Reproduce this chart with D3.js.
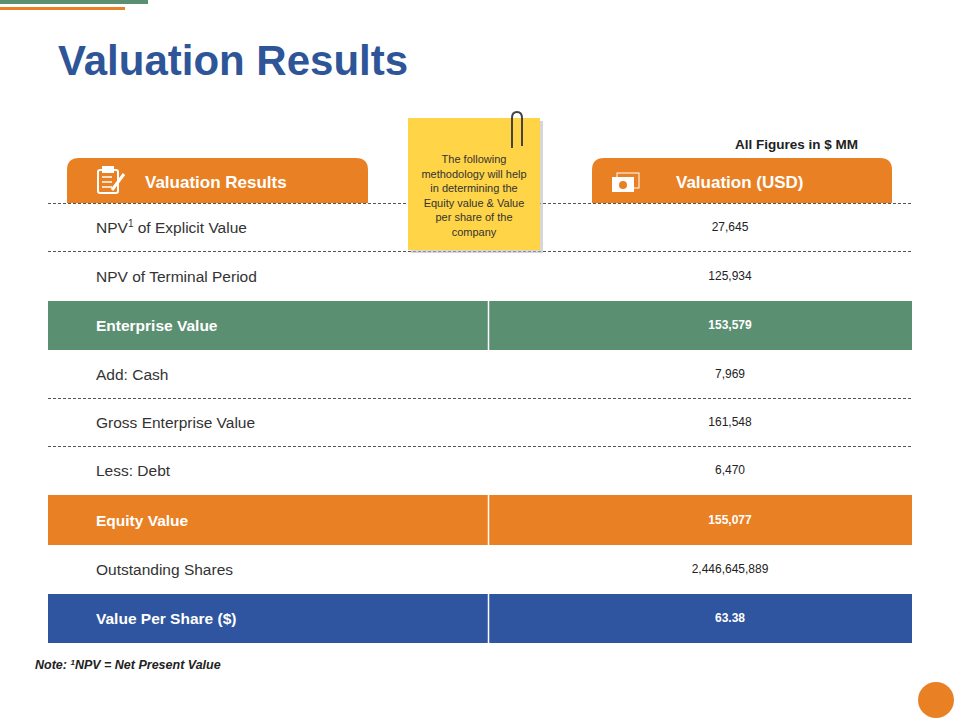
<!DOCTYPE html>
<html><head><meta charset="utf-8">
<script src="https://cdn.jsdelivr.net/npm/d3@7"></script>
<style>body{margin:0;background:#fff}</style>
</head><body>
<script>
// table content
var labels = ["NPV|1| of Explicit Value", "NPV of Terminal Period", "Enterprise Value", "Add: Cash",
  "Gross Enterprise Value", "Less: Debt", "Equity Value", "Outstanding Shares", "Value Per Share ($)"];
var values = ["27,645", "125,934", "153,579", "7,969", "161,548", "6,470", "155,077", "2,446,645,889", "63.38"];
var rowFill = [null, null, "#5A8F72", null, null, null, "#E98124", null, "#2F55A0"];
var rowTops = [203, 251, 300, 350, 398, 446, 494, 545, 593, 643];
var noteLines = ["The following", "methodology will help", "in determining the", "Equity value & Value", "per share of the", "company"];

var W = 960, H = 720;
var svg = d3.select("body").append("svg").attr("width", W).attr("height", H)
  .style("font-family", "'Liberation Sans', Arial, sans-serif");

svg.append("rect").attr("x", 0).attr("y", 0).attr("width", 148).attr("height", 4).attr("fill", "#5A8F72");
svg.append("rect").attr("x", 0).attr("y", 7).attr("width", 125).attr("height", 3).attr("fill", "#E98124");

svg.append("text").attr("x", 58).attr("y", 75).text("Valuation Results")
  .attr("font-size", 42).attr("font-weight", "bold").attr("fill", "#2E5597");

svg.append("text").attr("x", 858).attr("y", 149).attr("text-anchor", "end")
  .attr("font-size", 13.5).attr("font-weight", "bold").attr("fill", "#222").text("All Figures in $ MM");

function tab(x0, x1, label, tx) {
  var r = 12, y0 = 158, y1 = 203;
  svg.append("path").attr("fill", "#E98124")
    .attr("d", `M${x0},${y1}V${y0 + r}Q${x0},${y0} ${x0 + r},${y0}H${x1 - r}Q${x1},${y0} ${x1},${y0 + r}V${y1}Z`);
  svg.append("text").attr("x", tx).attr("y", 188).attr("font-size", 17).attr("font-weight", "bold")
    .attr("fill", "#fff").text(label);
}
tab(67, 368, "Valuation Results", 145);
tab(592, 892, "Valuation (USD)", 676);

// clipboard icon
var ic = svg.append("g").attr("fill", "none").attr("stroke", "#fff").attr("stroke-width", 2);
ic.append("rect").attr("x", 98).attr("y", 170).attr("width", 20).attr("height", 23).attr("rx", 2);
ic.append("rect").attr("x", 103).attr("y", 167).attr("width", 10).attr("height", 5).attr("fill", "#fff");
[177, 182, 187].forEach(function (y) { ic.append("line").attr("x1", 102).attr("x2", 112).attr("y1", y).attr("y2", y).attr("stroke-width", 1.5); });
ic.append("line").attr("x1", 112).attr("y1", 190).attr("x2", 124).attr("y2", 174).attr("stroke-width", 3);
// money icon
var mi = svg.append("g");
mi.append("rect").attr("x", 612).attr("y", 177).attr("width", 22).attr("height", 15).attr("fill", "#fff");
mi.append("rect").attr("x", 617).attr("y", 173).attr("width", 22).attr("height", 15).attr("fill", "none").attr("stroke", "#fff");
mi.append("circle").attr("cx", 623).attr("cy", 185).attr("r", 4).attr("fill", "#E98124");

var y = d3.scaleOrdinal().domain(d3.range(labels.length)).range(rowTops);
labels.forEach(function (l, i) {
  var t = y(i), b = rowTops[i + 1], mid = (t + b) / 2;
  if (rowFill[i]) {
    svg.append("rect").attr("x", 48).attr("y", t + 1).attr("width", 864).attr("height", b - t - 1).attr("fill", rowFill[i]);
    svg.append("line").attr("x1", 488.5).attr("x2", 488.5).attr("y1", t + 1).attr("y2", b).attr("stroke", "#fff").attr("stroke-width", 1.5);
  }
  var tx = svg.append("text").attr("x", 96).attr("y", mid + 6).attr("font-size", 15.5)
    .attr("font-weight", rowFill[i] ? "bold" : "normal").attr("fill", rowFill[i] ? "#fff" : "#333");
  l.split("|").forEach(function (p, k) {
    var s = tx.append("tspan").text(p);
    if (k === 1) s.attr("font-size", 10).attr("dy", -6);
    if (k === 2) s.attr("dy", 6);
  });
  svg.append("text").attr("x", 730).attr("y", mid + 4).attr("text-anchor", "middle").attr("font-size", 12)
    .attr("font-weight", rowFill[i] ? "bold" : "normal").attr("fill", rowFill[i] ? "#fff" : "#222").text(values[i]);
});
rowTops.forEach(function (t, i) {
  if (i === 0 || (!rowFill[i] && !rowFill[i - 1]))
    svg.append("line").attr("x1", 48).attr("x2", 912).attr("y1", t + 0.5).attr("y2", t + 0.5)
      .attr("stroke", "#555").attr("stroke-dasharray", "3,2");
});

// sticky note
svg.append("rect").attr("x", 411).attr("y", 121).attr("width", 132).attr("height", 132).attr("fill", "#bbb").attr("opacity", 0.6);
svg.append("rect").attr("x", 408).attr("y", 118).attr("width", 132).attr("height", 132).attr("fill", "#FFD447");
noteLines.forEach(function (s, i) {
  svg.append("text").attr("x", 474).attr("y", 163 + i * 14.5).attr("text-anchor", "middle")
    .attr("font-size", 11).attr("fill", "#333").text(s);
});
svg.append("path").attr("d", "M512,148V118Q512,112 517,112Q522,112 522,118V146").attr("fill", "none")
  .attr("stroke", "#444").attr("stroke-width", 2);

svg.append("text").attr("x", 35).attr("y", 669).attr("font-size", 12.5).attr("font-weight", "bold")
  .attr("font-style", "italic").attr("fill", "#222")
  .html('Note: <tspan font-size="8" dy="-4">1</tspan><tspan dy="4">NPV = Net Present  Value</tspan>');

svg.append("circle").attr("cx", 936).attr("cy", 700).attr("r", 18).attr("fill", "#E98124");
</script>
</body></html>
